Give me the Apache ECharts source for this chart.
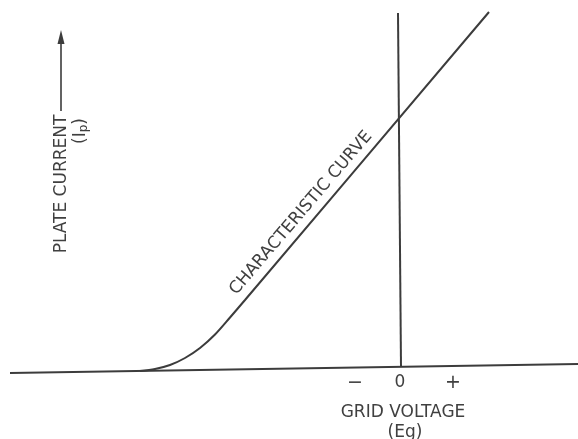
<!DOCTYPE html>
<html><head><meta charset="utf-8">
<script src="https://cdn.jsdelivr.net/npm/echarts@6/dist/echarts.min.js"></script>
<style>html,body{margin:0;padding:0;background:#fff}#c{width:578px;height:439px}</style>
</head><body><div id="c"></div>
<script>
// Characteristic curve (grid voltage -> plate current), arbitrary units
const curveX = [-26, -24.5, -23, -21.5, -20, -18.5, -17, -15.5, 8.9];
const curveY = [0.2, 0.4, 0.8, 1.5, 2.5, 3.85, 5.55, 7.3, 36.1];
// Horizontal (grid-voltage) axis line
const baseX = [-39, 17.8];
const baseY = [0, 0.9];
// Vertical line at zero grid voltage
const zeroX = [-0.2, 0.1];
const zeroY = [36.0, 0.6];
// Tick labels on the grid-voltage axis
const tickValues = [-5, 0, 5];
const tickLabels = ['\u2212', '0', '+'];

const FONT = 'DejaVu Sans';
const TXT = '#404040';
const LINE = '#3c3c3c';

const zip = (xs, ys) => xs.map((x, i) => [x, ys[i]]);

const chart = echarts.init(document.getElementById('c'), null, {renderer: 'canvas'});
chart.setOption({
  animation: false,
  backgroundColor: '#fff',
  grid: {left: 0, right: 0, top: 0, bottom: 66},
  xAxis: {
    type: 'value', min: -40, max: 17.8, interval: 5,
    axisLine: {show: false}, axisTick: {show: false}, splitLine: {show: false},
    axisLabel: {
      margin: 1, fontFamily: FONT, fontSize: 18, color: TXT,
      showMinLabel: false, showMaxLabel: false,
      formatter: v => {
        const i = tickValues.indexOf(Math.round(v));
        if (i < 0) return '';
        return '{t' + i + '|' + tickLabels[i] + '}';
      },
      rich: {
        t0: {fontFamily: FONT, fontSize: 19, color: TXT, padding: [0, 0, 0, 10]},
        t1: {fontFamily: FONT, fontSize: 17, color: TXT},
        t2: {fontFamily: FONT, fontSize: 19, color: TXT, padding: [0, 0, 0, 6]}
      }
    }
  },
  yAxis: {
    type: 'value', min: 0, max: 37.3,
    axisLine: {show: false}, axisTick: {show: false}, splitLine: {show: false},
    axisLabel: {show: false}
  },
  series: [
    {type: 'line', data: zip(baseX, baseY), symbol: 'none', lineStyle: {color: LINE, width: 2}},
    {type: 'line', data: zip(zeroX, zeroY), symbol: 'none', lineStyle: {color: LINE, width: 2}},
    {type: 'line', data: zip(curveX, curveY), symbol: 'none', smooth: 0.3, lineStyle: {color: LINE, width: 2}}
  ],
  graphic: [
    {type: 'text', x: 62, y: 184, rotation: Math.PI / 2,
      style: {text: 'PLATE CURRENT', fontFamily: FONT, fontSize: 17, fill: TXT,
        align: 'center', verticalAlign: 'middle', textAlign: 'center', textVerticalAlign: 'middle'}},
    {type: 'text', x: 81, y: 131, rotation: Math.PI / 2,
      style: {text: '(I{s|p})', fontFamily: FONT, fontSize: 17, fill: TXT,
        align: 'center', verticalAlign: 'middle', textAlign: 'center', textVerticalAlign: 'middle',
        rich: {s: {fontFamily: FONT, fontSize: 12, fill: TXT, padding: [6, 0, 0, 0]}}}},
    {type: 'line', shape: {x1: 61, y1: 111, x2: 61, y2: 40}, style: {stroke: LINE, lineWidth: 1.6}},
    {type: 'polygon', shape: {points: [[61, 30], [57.5, 44], [64.5, 44]]}, style: {fill: LINE}},
    {type: 'text', x: 301, y: 213, rotation: Math.atan(1.17),
      style: {text: 'CHARACTERISTIC CURVE', fontFamily: FONT, fontSize: 17, fill: TXT,
        align: 'center', verticalAlign: 'middle', textAlign: 'center', textVerticalAlign: 'middle'}},
    {type: 'text', x: 403, y: 413,
      style: {text: 'GRID VOLTAGE', fontFamily: FONT, fontSize: 17, fill: TXT,
        align: 'center', verticalAlign: 'middle', textAlign: 'center', textVerticalAlign: 'middle'}},
    {type: 'text', x: 405, y: 433,
      style: {text: '(Eg)', fontFamily: FONT, fontSize: 17, fill: TXT,
        align: 'center', verticalAlign: 'middle', textAlign: 'center', textVerticalAlign: 'middle'}}
  ]
});
</script></body></html>
